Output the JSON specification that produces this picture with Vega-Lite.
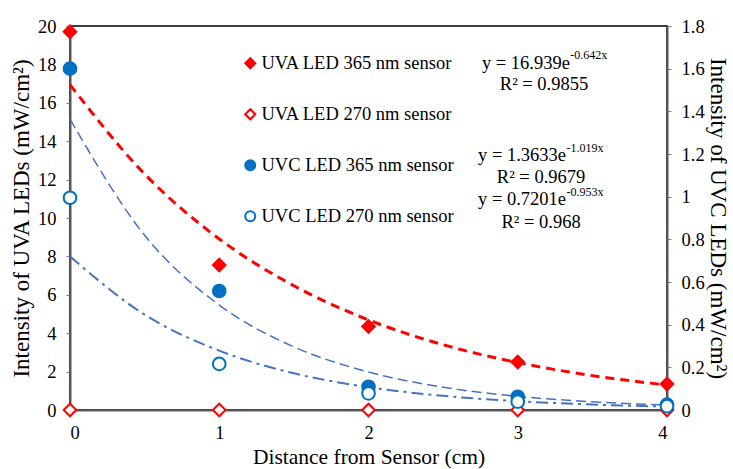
{
  "$schema": "https://vega.github.io/schema/vega-lite/v6.json",
  "width": 597,
  "height": 384,
  "autosize": {"type": "none"},
  "padding": {"left": 70, "top": 26, "right": 66, "bottom": 59},
  "background": "white",
  "config": {
    "font": "Liberation Serif",
    "view": {"stroke": "#000000", "strokeWidth": 1.5},
    "axis": {
      "grid": false,
      "domainColor": "#595959",
      "domainWidth": 2,
      "tickColor": "#7f7f7f",
      "tickSize": 4,
      "labelFont": "Liberation Serif",
      "labelFontSize": 18.5,
      "labelColor": "#000000",
      "titleFont": "Liberation Serif",
      "titleFontSize": 23,
      "titleFontWeight": "normal",
      "titleColor": "#000000"
    },
    "legend": {
      "orient": "none",
      "legendX": 171,
      "legendY": 28,
      "padding": 0,
      "symbolSize": 100,
      "symbolStrokeWidth": 2,
      "labelFont": "Liberation Serif",
      "labelFontSize": 18.5,
      "labelColor": "#000000",
      "labelOffset": 2,
      "rowPadding": 32,
      "labelLimit": 400
    }
  },
  "datasets": {
    "uva": [
      {"x": 0, "value": 19.7, "series": "UVA LED 365 nm sensor"},
      {"x": 1, "value": 7.55, "series": "UVA LED 365 nm sensor"},
      {"x": 2, "value": 4.35, "series": "UVA LED 365 nm sensor"},
      {"x": 3, "value": 2.5, "series": "UVA LED 365 nm sensor"},
      {"x": 4, "value": 1.35, "series": "UVA LED 365 nm sensor"},
      {"x": 0, "value": 0, "series": "UVA LED 270 nm sensor"},
      {"x": 1, "value": 0, "series": "UVA LED 270 nm sensor"},
      {"x": 2, "value": 0, "series": "UVA LED 270 nm sensor"},
      {"x": 3, "value": 0, "series": "UVA LED 270 nm sensor"},
      {"x": 4, "value": 0, "series": "UVA LED 270 nm sensor"}
    ],
    "uvc": [
      {"x": 0, "value": 1.6, "series": "UVC LED 365 nm sensor"},
      {"x": 1, "value": 0.558, "series": "UVC LED 365 nm sensor"},
      {"x": 2, "value": 0.109, "series": "UVC LED 365 nm sensor"},
      {"x": 3, "value": 0.062, "series": "UVC LED 365 nm sensor"},
      {"x": 4, "value": 0.025, "series": "UVC LED 365 nm sensor"},
      {"x": 0, "value": 0.995, "series": "UVC LED 270 nm sensor"},
      {"x": 1, "value": 0.216, "series": "UVC LED 270 nm sensor"},
      {"x": 2, "value": 0.078, "series": "UVC LED 270 nm sensor"},
      {"x": 3, "value": 0.039, "series": "UVC LED 270 nm sensor"},
      {"x": 4, "value": 0.018, "series": "UVC LED 270 nm sensor"}
    ],
    "uvaTrend": [
      {"x": 0, "value": 16.94},
      {"x": 0.5, "value": 12.29},
      {"x": 1, "value": 8.91},
      {"x": 1.5, "value": 6.47},
      {"x": 2, "value": 4.69},
      {"x": 2.5, "value": 3.4},
      {"x": 3, "value": 2.47},
      {"x": 3.5, "value": 1.79},
      {"x": 4, "value": 1.3}
    ],
    "uvcTrend": [
      {"x": 0, "value": 1.363, "fit": "365"},
      {"x": 0.5, "value": 0.819, "fit": "365"},
      {"x": 1, "value": 0.492, "fit": "365"},
      {"x": 1.5, "value": 0.296, "fit": "365"},
      {"x": 2, "value": 0.178, "fit": "365"},
      {"x": 2.5, "value": 0.107, "fit": "365"},
      {"x": 3, "value": 0.064, "fit": "365"},
      {"x": 3.5, "value": 0.0385, "fit": "365"},
      {"x": 4, "value": 0.0232, "fit": "365"},
      {"x": 0, "value": 0.72, "fit": "270"},
      {"x": 0.5, "value": 0.447, "fit": "270"},
      {"x": 1, "value": 0.278, "fit": "270"},
      {"x": 1.5, "value": 0.172, "fit": "270"},
      {"x": 2, "value": 0.107, "fit": "270"},
      {"x": 2.5, "value": 0.0665, "fit": "270"},
      {"x": 3, "value": 0.0413, "fit": "270"},
      {"x": 3.5, "value": 0.0256, "fit": "270"},
      {"x": 4, "value": 0.0159, "fit": "270"}
    ],
    "notes": [
      {"text": "y = 16.939e", "x": 2.76, "value": 17.78, "kind": "main"},
      {"text": "-0.642x", "x": 3.352, "value": 18.28, "kind": "sup"},
      {"text": "R² = 0.9855", "x": 3.176, "value": 16.67, "kind": "center"},
      {"text": "y = 1.3633e", "x": 2.734, "value": 12.97, "kind": "main"},
      {"text": "-1.019x", "x": 3.326, "value": 13.44, "kind": "sup"},
      {"text": "R² = 0.9679", "x": 3.156, "value": 11.82, "kind": "center"},
      {"text": "y = 0.7201e", "x": 2.734, "value": 10.68, "kind": "main"},
      {"text": "-0.953x", "x": 3.326, "value": 11.15, "kind": "sup"},
      {"text": "R² = 0.968", "x": 3.156, "value": 9.48, "kind": "center"}
    ]
  },
  "encoding": {
    "x": {"field": "x", "type": "quantitative",
      "scale": {"domain": [0, 4], "nice": false},
      "axis": {"values": [0, 1, 2, 3, 4], "format": "d", "title": "Distance from Sensor (cm)", "ticks": false, "labelPadding": 13, "titlePadding": 5, "titleFontSize": 21.5}}
  },
  "layer": [
    {
      "layer": [
        {
          "data": {"name": "uvaTrend"},
          "mark": {"type": "line", "color": "#ff0000", "strokeWidth": 3, "strokeDash": [9, 6], "interpolate": "monotone"}
        },
        {
          "data": {"name": "uva"},
          "mark": {"type": "point", "size": 160, "strokeWidth": 2, "opacity": 1},
          "encoding": {
            "shape": {"field": "series", "type": "nominal", "legend": {"title": null},
              "scale": {"domain": ["UVA LED 365 nm sensor", "UVA LED 270 nm sensor", "UVC LED 365 nm sensor", "UVC LED 270 nm sensor"], "range": ["diamond", "diamond", "circle", "circle"]}},
            "fill": {"field": "series", "type": "nominal", "legend": {"title": null},
              "scale": {"domain": ["UVA LED 365 nm sensor", "UVA LED 270 nm sensor", "UVC LED 365 nm sensor", "UVC LED 270 nm sensor"], "range": ["#ff0000", "#ffffff", "#0070c0", "#ffffff"]}},
            "stroke": {"field": "series", "type": "nominal", "legend": {"title": null},
              "scale": {"domain": ["UVA LED 365 nm sensor", "UVA LED 270 nm sensor", "UVC LED 365 nm sensor", "UVC LED 270 nm sensor"], "range": ["#ff0000", "#ff0000", "#0070c0", "#0070c0"]}}
          }
        },
        {
          "data": {"name": "notes"},
          "transform": [{"filter": "datum.kind === 'main'"}],
          "mark": {"type": "text", "align": "left", "baseline": "alphabetic", "fontSize": 18.5, "color": "#000000", "font": "Liberation Serif"},
          "encoding": {"text": {"field": "text"}}
        },
        {
          "data": {"name": "notes"},
          "transform": [{"filter": "datum.kind === 'center'"}],
          "mark": {"type": "text", "align": "center", "baseline": "alphabetic", "fontSize": 18.5, "color": "#000000", "font": "Liberation Serif"},
          "encoding": {"text": {"field": "text"}}
        },
        {
          "data": {"name": "notes"},
          "transform": [{"filter": "datum.kind === 'sup'"}],
          "mark": {"type": "text", "align": "left", "baseline": "alphabetic", "fontSize": 12, "color": "#000000", "font": "Liberation Serif"},
          "encoding": {"text": {"field": "text"}}
        }
      ],
      "encoding": {
        "y": {"field": "value", "type": "quantitative",
          "scale": {"domain": [0, 20], "nice": false},
          "axis": {"orient": "left", "values": [0, 2, 4, 6, 8, 10, 12, 14, 16, 18, 20], "title": "Intensity of UVA LEDs (mW/cm²)", "labelPadding": 10, "titlePadding": 4}}
      }
    },
    {
      "layer": [
        {
          "data": {"name": "uvcTrend"},
          "transform": [{"filter": "datum.fit === '365'"}],
          "mark": {"type": "line", "color": "#4472c4", "strokeWidth": 1.5, "strokeDash": [10, 5], "interpolate": "monotone"}
        },
        {
          "data": {"name": "uvcTrend"},
          "transform": [{"filter": "datum.fit === '270'"}],
          "mark": {"type": "line", "color": "#4472c4", "strokeWidth": 2, "strokeDash": [12, 5, 3, 5], "interpolate": "monotone"}
        },
        {
          "data": {"name": "uvc"},
          "mark": {"type": "point", "size": 160, "strokeWidth": 2, "opacity": 1},
          "encoding": {
            "shape": {"field": "series", "type": "nominal", "legend": {"title": null}},
            "fill": {"field": "series", "type": "nominal", "legend": {"title": null}},
            "stroke": {"field": "series", "type": "nominal", "legend": {"title": null}}
          }
        }
      ],
      "encoding": {
        "y": {"field": "value", "type": "quantitative",
          "scale": {"domain": [0, 1.8], "nice": false},
          "axis": {"orient": "right", "values": [0, 0.2, 0.4, 0.6, 0.8, 1, 1.2, 1.4, 1.6, 1.8], "format": "~g", "title": "Intensity of UVC LEDs (mW/cm²)", "labelPadding": 10, "titlePadding": 1}}
      }
    }
  ],
  "resolve": {"scale": {"y": "independent"}, "axis": {"y": "independent"}}
}
